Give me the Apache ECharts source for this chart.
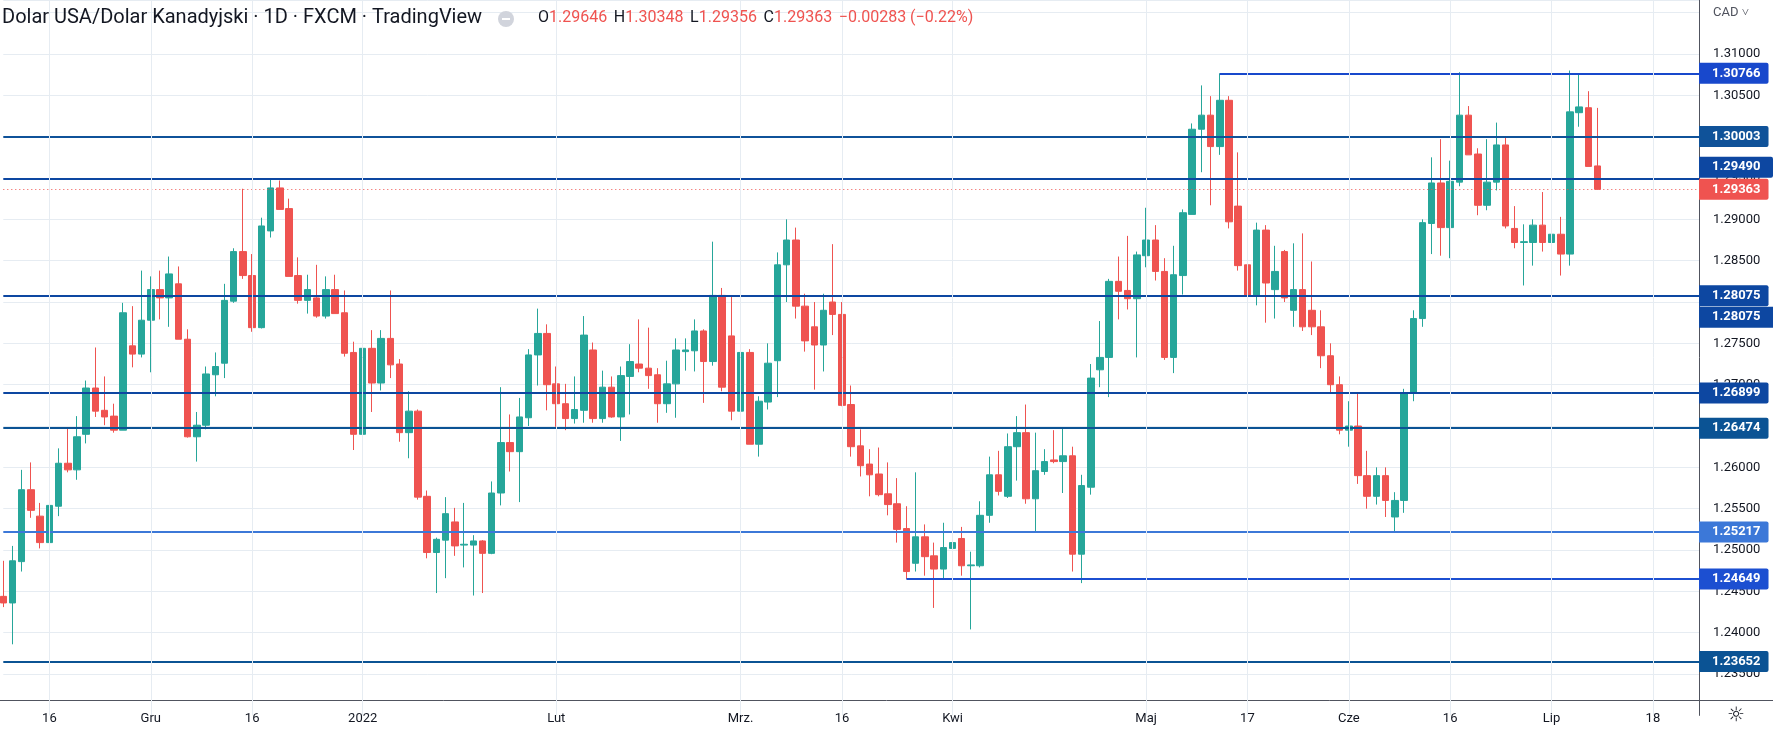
<!DOCTYPE html>
<html>
<head>
<meta charset="utf-8">
<script src="https://cdn.jsdelivr.net/npm/echarts@6/dist/echarts.min.js"></script>
<style>
  html, body { margin: 0; padding: 0; background: #fff; }
  #mainECharts { width: 1773px; height: 730px; }
</style>
</head>
<body>
<div id="mainECharts"></div>
<script>
// USD/CAD 1D, 2021-11-09 .. 2022-07-08
var opens = [
  1.2444,1.2436,1.2486,1.2573,1.2541,1.2509,1.2553,1.2605,1.2597,1.2640,
  1.2696,1.2669,1.2662,1.2645,1.2747,1.2737,1.2778,1.2815,1.2805,1.2822,
  1.2755,1.2637,1.2651,1.2712,1.2726,1.2801,1.2861,1.2832,1.2769,1.2886,
  1.2938,1.2913,1.2832,1.2802,1.2805,1.2783,1.2815,1.2787,1.2739,1.2640,
  1.2744,1.2702,1.2756,1.2725,1.2642,1.2668,1.2565,1.2497,1.2512,1.2534,
  1.2506,1.2506,1.2511,1.2496,1.2569,1.2630,1.2619,1.2660,1.2736,1.2762,
  1.2701,1.2677,1.2659,1.2669,1.2742,1.2659,1.2697,1.2661,1.2710,1.2725,
  1.2720,1.2712,1.2677,1.2701,1.2740,1.2741,1.2765,1.2728,1.2808,1.2759,
  1.2668,1.2739,1.2628,1.2679,1.2729,1.2845,1.2875,1.2795,1.2770,1.2748,
  1.2800,1.2785,1.2676,1.2626,1.2604,1.2592,1.2568,1.2556,1.2526,1.2484,
  1.2516,1.2493,1.2477,1.2502,1.2514,1.2481,1.2481,1.2542,1.2591,1.2565,
  1.2625,1.2642,1.2562,1.2595,1.2609,1.2607,1.2614,1.2495,1.2576,1.2718,
  1.2733,1.2825,1.2814,1.2804,1.2856,1.2875,1.2837,1.2733,1.2832,1.2906,
  1.3009,1.3026,1.2988,1.3044,1.2916,1.2845,1.2808,1.2887,1.2815,1.2861,
  1.2790,1.2815,1.2790,1.2770,1.2735,1.2700,1.2645,1.2650,1.2590,1.2565,
  1.2590,1.2540,1.2560,1.2690,1.2780,1.2895,1.2944,1.2890,1.2945,1.3026,
  1.2979,1.2917,1.2945,1.2990,1.2889,1.2872,1.2872,1.2893,1.2872,1.2882,
  1.2858,1.3029,1.3035,1.29646
];
var highs = [
  1.2487,1.2505,1.2597,1.2606,1.2557,1.2569,1.2623,1.2647,1.2662,1.2705,
  1.2745,1.2710,1.2677,1.2799,1.2795,1.2838,1.2831,1.2838,1.2855,1.2843,
  1.2767,1.2667,1.2722,1.2739,1.2822,1.2865,1.2937,1.2858,1.2902,1.2948,
  1.2947,1.2925,1.2854,1.2833,1.2845,1.2831,1.2833,1.2814,1.2752,1.2780,
  1.2766,1.2766,1.2814,1.2731,1.2692,1.2670,1.2572,1.2515,1.2564,1.2551,
  1.2557,1.2518,1.2512,1.2583,1.2697,1.2664,1.2684,1.2743,1.2792,1.2773,
  1.2722,1.2701,1.2710,1.2783,1.2751,1.2717,1.2710,1.2722,1.2749,1.2779,
  1.2769,1.2720,1.2729,1.2756,1.2756,1.2779,1.2767,1.2873,1.2817,1.2806,
  1.2748,1.2743,1.2686,1.2750,1.2860,1.2900,1.2890,1.2810,1.2800,1.2810,
  1.2870,1.2800,1.2699,1.2646,1.2622,1.2624,1.2606,1.2587,1.2553,1.2594,
  1.2531,1.2509,1.2533,1.2540,1.2528,1.2498,1.2559,1.2613,1.2620,1.2641,
  1.2662,1.2676,1.2642,1.2622,1.2645,1.2647,1.2625,1.2591,1.2725,1.2777,
  1.2828,1.2855,1.2880,1.2861,1.2914,1.2893,1.2853,1.2868,1.2912,1.3016,
  1.3062,1.3049,1.30766,1.3049,1.2981,1.2858,1.2896,1.2893,1.2868,1.2863,
  1.2871,1.2883,1.2849,1.2790,1.2750,1.2710,1.2680,1.2690,1.2620,1.2600,
  1.2600,1.2570,1.2695,1.2790,1.2900,1.2975,1.2997,1.2971,1.3078,1.3037,
  1.2986,1.2997,1.3017,1.2999,1.2916,1.2894,1.2900,1.2933,1.2966,1.2903,
  1.3080,1.3076,1.3055,1.30348
];
var lows = [
  1.2431,1.2386,1.2474,1.2539,1.2502,1.2493,1.2541,1.2594,1.2585,1.2629,
  1.2661,1.2651,1.2642,1.2645,1.2721,1.2733,1.2715,1.2779,1.2770,1.2755,
  1.2636,1.2607,1.2646,1.2686,1.2708,1.2799,1.2828,1.2764,1.2768,1.2878,
  1.2912,1.2831,1.2798,1.2786,1.2781,1.2780,1.2786,1.2734,1.2621,1.2631,
  1.2667,1.2693,1.2708,1.2631,1.2611,1.2561,1.2490,1.2448,1.2466,1.2493,
  1.2479,1.2445,1.2448,1.2495,1.2554,1.2595,1.2558,1.2650,1.2699,1.2669,
  1.2649,1.2645,1.2653,1.2654,1.2654,1.2654,1.2660,1.2632,1.2664,1.2715,
  1.2695,1.2654,1.2666,1.2660,1.2717,1.2716,1.2678,1.2723,1.2692,1.2657,
  1.2650,1.2628,1.2613,1.2670,1.2685,1.2800,1.2780,1.2740,1.2694,1.2716,
  1.2760,1.2674,1.2613,1.2589,1.2565,1.2565,1.2542,1.2509,1.2465,1.2474,
  1.2469,1.2430,1.2466,1.2480,1.2469,1.2404,1.2479,1.2533,1.2566,1.2563,
  1.2584,1.2556,1.2522,1.2591,1.2605,1.2569,1.2474,1.2460,1.2567,1.2697,
  1.2685,1.2779,1.2791,1.2733,1.2842,1.2826,1.2730,1.2714,1.2809,1.2906,
  1.2957,1.2917,1.2978,1.2889,1.2838,1.2808,1.2796,1.2775,1.2780,1.2800,
  1.2770,1.2765,1.2760,1.2720,1.2690,1.2640,1.2625,1.2580,1.2550,1.2555,
  1.2540,1.2522,1.2545,1.2680,1.2770,1.2858,1.2856,1.2853,1.2940,1.2978,
  1.2905,1.2911,1.2935,1.2889,1.2865,1.2820,1.2844,1.2861,1.2867,1.2832,
  1.2844,1.3012,1.2964,1.29356
];
var closes = [
  1.2436,1.2487,1.2573,1.2548,1.2509,1.2554,1.2605,1.2597,1.2637,1.2696,
  1.2668,1.2661,1.2645,1.2787,1.2737,1.2778,1.2815,1.2805,1.2834,1.2755,
  1.2637,1.2651,1.2713,1.2722,1.2802,1.2861,1.2832,1.2769,1.2892,1.2938,
  1.2912,1.2831,1.2802,1.2815,1.2783,1.2815,1.2786,1.2738,1.2640,1.2744,
  1.2702,1.2756,1.2724,1.2642,1.2668,1.2564,1.2497,1.2513,1.2544,1.2505,
  1.2507,1.2511,1.2496,1.2569,1.2630,1.2619,1.2661,1.2736,1.2762,1.2700,
  1.2677,1.2659,1.2670,1.2760,1.2659,1.2697,1.2661,1.2711,1.2728,1.2720,
  1.2711,1.2677,1.2701,1.2742,1.2742,1.2765,1.2728,1.2808,1.2697,1.2668,
  1.2739,1.2628,1.2680,1.2726,1.2845,1.2875,1.2795,1.2753,1.2748,1.2790,
  1.2785,1.2675,1.2625,1.2602,1.2591,1.2567,1.2555,1.2525,1.2474,1.2516,
  1.2492,1.2477,1.2503,1.2509,1.2481,1.2482,1.2542,1.2591,1.2571,1.2625,
  1.2642,1.2562,1.2596,1.2607,1.2607,1.2614,1.2495,1.2578,1.2708,1.2733,
  1.2825,1.2813,1.2804,1.2857,1.2875,1.2837,1.2733,1.2833,1.2908,1.3009,
  1.3026,1.2988,1.3044,1.2897,1.2844,1.2808,1.2887,1.2823,1.2837,1.2805,
  1.2815,1.2770,1.2770,1.2735,1.2700,1.2645,1.2650,1.2590,1.2565,1.2590,
  1.2560,1.2560,1.2690,1.2780,1.2896,1.2944,1.2890,1.2946,1.3026,1.2978,
  1.2917,1.2945,1.2990,1.2892,1.2872,1.2873,1.2893,1.2872,1.2882,1.2858,
  1.3030,1.3036,1.2964,1.29363
];
// podpisy osi czasu (indeks świecy -> etykieta)
var tickLabels = { 5: '16', 16: 'Gru', 27: '16', 39: '2022', 60: 'Lut', 80: 'Mrz.', 91: '16',
  103: 'Kwi', 124: 'Maj', 135: '17', 146: 'Cze', 157: '16', 168: 'Lip', 179: '18' };
// poziomy wsparcia / oporu
var levels = [1.30003, 1.29490, 1.28075, 1.26899, 1.26474, 1.25217, 1.23652];
var levelColors = ['#0f5299', '#0d47a1', '#0d47a1', '#0d47a1', '#0b5394', '#3c78d8', '#0b5394'];
var partialLevels = [[132, 1.30766, '#1848cc'], [98, 1.24649, '#1c4fd1']];
var lastPrice = 1.29363;

var nSlots = 185;
var cats = [];
var d = new Date(2021, 10, 9);
while (cats.length < nSlots) {
  var wd = d.getDay();
  if (wd !== 0 && wd !== 6) cats.push(d.getFullYear() + '-' + (d.getMonth() + 1) + '-' + d.getDate());
  d.setDate(d.getDate() + 1);
}

var candles = [];
for (var i = 0; i < opens.length; i++) candles.push([opens[i], closes[i], lows[i], highs[i]]);

var boxLabel = function (color, v) {
  return {
    show: true, position: 'end', distance: 0, color: '#fff', fontWeight: 'bold',
    fontSize: 13, fontFamily: 'Roboto', backgroundColor: color,
    padding: [4, 8, 4, 13], borderRadius: [0, 2, 2, 0],
    formatter: v.toFixed(5)
  };
};

var mlData = [];
levels.forEach(function (v, k) {
  var lb = boxLabel(levelColors[k], v);
  if (v === 1.29490) lb.show = false; // etykieta przesunięta w górę osobno
  mlData.push({ yAxis: v, lineStyle: { color: levelColors[k], width: 2, type: 'solid' }, label: lb });
});
partialLevels.forEach(function (p) {
  mlData.push([
    { coord: [p[0], p[1]], lineStyle: { color: p[2], width: 2, type: 'solid' }, label: boxLabel(p[2], p[1]) },
    { coord: [nSlots - 1, p[1]] }
  ]);
});
mlData.push({ yAxis: lastPrice, lineStyle: { color: '#ef5350', width: 1, type: [1, 3] }, label: boxLabel('#ef5350', lastPrice) });

var myChart = echarts.init(document.getElementById('mainECharts'));
var graphics = [
  { type: 'rect', z: 5, shape: { x: 0, y: 701, width: 1699, height: 29 }, style: { fill: '#fff' } },
  { type: 'line', z: 6, shape: { x1: 0, y1: 700.5, x2: 1773, y2: 700.5 }, style: { stroke: '#50535e', lineWidth: 1 } },
  { type: 'text', z: 20, left: 2, top: 8, style: { text: 'Dolar USA/Dolar Kanadyjski · 1D · FXCM · TradingView',
    font: '20px Roboto', fill: '#131722' } },
  { type: 'circle', z: 20, shape: { cx: 506, cy: 19, r: 8 }, style: { fill: '#d1d4dc' } },
  { type: 'rect', z: 21, shape: { x: 502, y: 18, width: 8, height: 2 }, style: { fill: '#fff' } },
  { type: 'text', z: 20, left: 538, top: 10, style: {
    text: '{k|O}{v|1.29646}  {k|H}{v|1.30348}  {k|L}{v|1.29356}  {k|C}{v|1.29363}  {v|−0.00283 (−0.22%)}',
    rich: { k: { font: '16px Roboto', fill: '#131722' }, v: { font: '16px Roboto', fill: '#ef5350' } } } },
  { type: 'text', z: 20, left: 1713, top: 6, style: { text: 'CAD ˅', font: '13px Roboto', fill: '#50535e' } },
  { type: 'text', z: 20, left: 1727, top: 706, style: { text: '☼', font: '20px DejaVu Sans', fill: '#131722' } }
];
var option = {
  backgroundColor: '#fff',
  animation: false,
  grid: { left: 3.3, right: 74, top: 0, bottom: 14.6 },
  xAxis: {
    type: 'category', data: cats, boundaryGap: false, z: 10,
    axisLine: { show: false }, axisTick: { show: false },
    axisLabel: {
      margin: -3, color: '#131722', fontSize: 13, fontFamily: 'Roboto',
      interval: function (idx) { return tickLabels[idx] !== undefined; },
      formatter: function (val, idx) { return tickLabels[idx] || ''; }
    },
    splitLine: { show: true, interval: function (idx) { return tickLabels[idx] !== undefined; },
      lineStyle: { color: '#e6ecf2', width: 1 } }
  },
  yAxis: {
    type: 'value', position: 'right', min: 1.23, max: 1.31653, interval: 0.005,
    axisLine: { show: true, lineStyle: { color: '#50535e', width: 1 } },
    axisTick: { show: false },
    axisLabel: {
      margin: 14, color: '#131722', fontSize: 13, fontFamily: 'Roboto',
      formatter: function (v) { return (v < 1.2325 || v > 1.3125) ? '' : v.toFixed(5); }
    },
    splitLine: { lineStyle: { color: '#e6ecf2', width: 1 } }
  },
  series: [{
    type: 'candlestick', data: candles, barWidth: 7,
    itemStyle: { color: '#26a69a', color0: '#ef5350', borderColor: '#26a69a', borderColor0: '#ef5350', borderWidth: 1 },
    markLine: { silent: true, symbol: 'none', animation: false, precision: 5, data: mlData }
  }],
  graphic: graphics
};
myChart.setOption(option);

// dodatkowe etykiety: druga 1.28075 pod pierwszą, 1.29490 nad linią
var py = myChart.convertToPixel({ yAxisIndex: 0 }, 1.28075);
var py2 = myChart.convertToPixel({ yAxisIndex: 0 }, 1.29490);
myChart.setOption({ graphic: graphics.concat([
  { type: 'rect', z: 30, shape: { x: 1699, y: py + 11, width: 74, height: 21 }, style: { fill: '#0d47a1' } },
  { type: 'text', z: 31, left: 1712, top: py + 14, style: { text: '1.28075', font: 'bold 13px Roboto', fill: '#fff' } },
  { type: 'rect', z: 30, shape: { x: 1699, y: py2 - 22, width: 74, height: 21, r: [0, 2, 2, 0] }, style: { fill: '#0d47a1' } },
  { type: 'text', z: 31, left: 1712, top: py2 - 19, style: { text: '1.29490', font: 'bold 13px Roboto', fill: '#fff' } }
]) });
</script>
</body>
</html>
